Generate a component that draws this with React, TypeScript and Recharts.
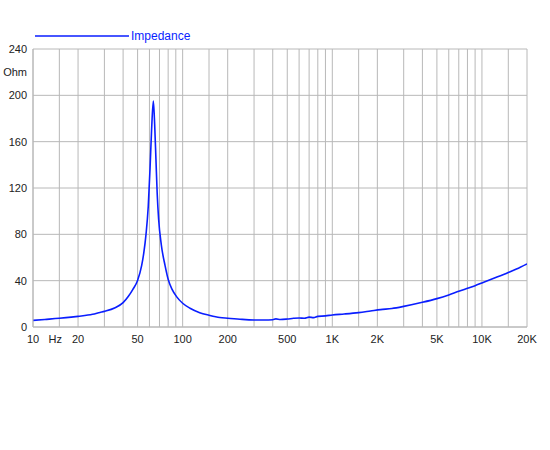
import React from 'react';
import { LineChart, Line, XAxis, YAxis, CartesianGrid, Legend } from 'recharts';

const frequencies = [
  10, 12, 15, 18, 20, 25, 28, 30, 35.4, 40, 43.4, 46.5, 49.9, 53.2, 55, 56.9, 58.9, 60.5, 62, 63.7,
  65, 66.3, 67.6, 69.1, 72, 76.3, 80.1, 85, 91.3, 100, 112, 130, 150, 177, 200, 250, 300, 350,
  400, 420, 450, 500, 550, 600, 650, 700, 750, 800, 900, 1000, 1200, 1500, 1800, 2100, 2500, 3000,
  4000, 5000, 6000, 7000, 8000, 9000, 10000, 12000, 15000, 17000, 20000,
];
const impedance = [
  5.7, 6.5, 7.5, 8.5, 9.2, 11, 12.6, 13.5, 16.6, 21, 26.5, 32.5, 40, 53, 64, 80, 104, 136, 170, 195,
  175, 145, 115, 93, 71, 53, 41, 32.5, 26, 20.5, 16.2, 12.4, 10.2, 8.2, 7.6, 6.6, 6.1, 6.0,
  6.3, 7.0, 6.5, 6.9, 7.5, 7.8, 7.6, 8.5, 8.1, 9.2, 9.6, 10.4, 11.2, 12.4, 13.8, 15, 16, 17.8,
  21.3, 24.5, 27.7, 30.8, 33.4, 35.7, 38, 42, 47, 50, 54.5,
];

const gridFrequencies = [
  10, 15, 20, 30, 40, 50, 60, 70, 80, 90, 100, 150, 200, 300, 400, 500, 600, 700, 800, 900,
  1000, 1500, 2000, 3000, 4000, 5000, 6000, 7000, 8000, 9000, 10000, 15000, 20000,
];
const xTickValues = [10, 14.1, 20, 50, 100, 200, 500, 1000, 2000, 5000, 10000, 20000];
const xTickLabels = ['10', 'Hz', '20', '50', '100', '200', '500', '1K', '2K', '5K', '10K', '20K'];

const yGridValues = [0, 40, 80, 120, 160, 200, 240];
const yTickValues = [0, 40, 80, 120, 160, 200, 220, 240];
const yTickLabels = ['0', '40', '80', '120', '160', '200', 'Ohm', '240'];

const seriesName = 'Impedance';

const data = frequencies.map((f, i) => ({ f, z: impedance[i] }));

const FONT = '"Liberation Sans", Arial, Helvetica, sans-serif';
const BLUE = '#0a1eff';
const GRID = '#b8b8b8';

const xLabel = (v: number) => {
  const i = xTickValues.indexOf(v);
  return i >= 0 ? xTickLabels[i] : '';
};
const yLabel = (v: number) => {
  const i = yTickValues.indexOf(v);
  return i >= 0 ? yTickLabels[i] : '';
};

const LegendContent = () => (
  <div style={{ display: 'flex', alignItems: 'center', fontFamily: FONT, fontSize: 12, color: BLUE }}>
    <svg width={96} height={4} style={{ display: 'block' }}>
      <line x1={0} y1={2} x2={94} y2={2} stroke={BLUE} strokeWidth={1.6} />
    </svg>
    <span style={{ lineHeight: '14px' }}>{seriesName}</span>
  </div>
);

export default function App() {
  return (
    <div style={{ position: 'absolute', left: 0, top: 0, width: 550, height: 450, background: '#fff' }}>
      <LineChart width={550} height={450} data={data} margin={{ top: 49, right: 23, bottom: 103, left: 0 }}>
        <CartesianGrid
          stroke={GRID}
          verticalValues={gridFrequencies}
          horizontalValues={yGridValues}
        />
        <XAxis
          dataKey="f"
          type="number"
          scale="log"
          domain={[10, 20000]}
          allowDataOverflow
          ticks={xTickValues}
          interval={0}
          tickFormatter={xLabel}
          tickLine={false}
          tickSize={0}
          tickMargin={8}
          height={20}
          axisLine={{ stroke: GRID }}
          tick={{ fontFamily: FONT, fontSize: 11, fill: '#222' }}
        />
        <YAxis
          type="number"
          domain={[0, 240]}
          ticks={yTickValues}
          interval={0}
          tickFormatter={yLabel}
          tickLine={false}
          tickSize={0}
          tickMargin={6}
          width={33}
          axisLine={{ stroke: GRID }}
          tick={{ fontFamily: FONT, fontSize: 11, fill: '#222' }}
        />
        <Legend
          verticalAlign="top"
          content={<LegendContent />}
          wrapperStyle={{ position: 'absolute', top: 29, left: 35, width: 'auto', height: 0, overflow: 'visible' }}
        />
        <Line
          type="monotone"
          dataKey="z"
          name={seriesName}
          stroke={BLUE}
          strokeWidth={1.6}
          dot={false}
          isAnimationActive={false}
        />
      </LineChart>
    </div>
  );
}
